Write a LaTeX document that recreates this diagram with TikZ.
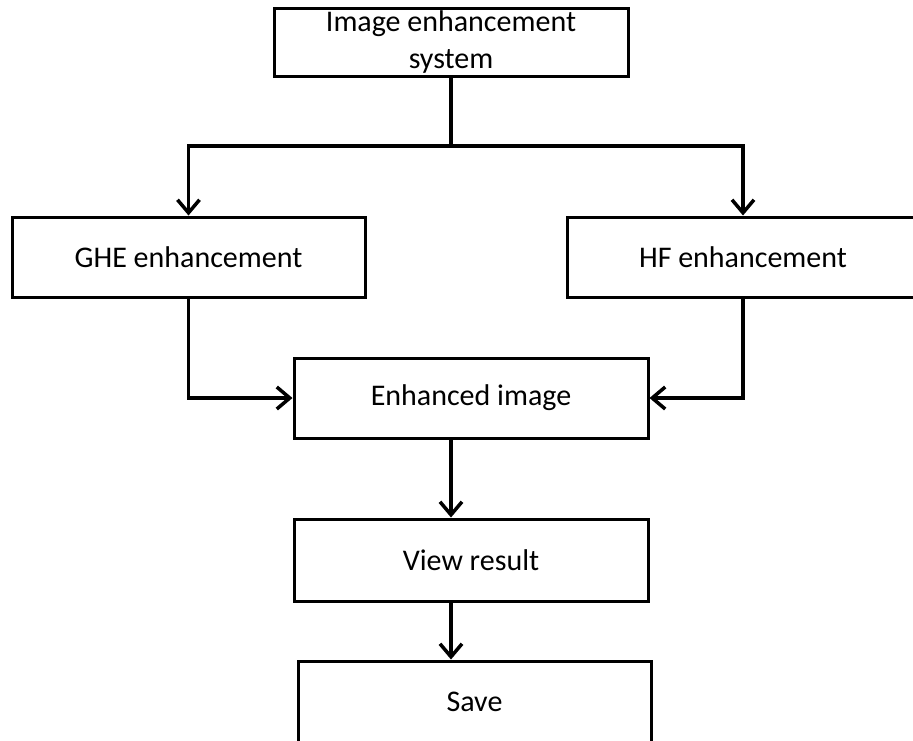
\documentclass[tikz,border=0pt]{standalone}
\usepackage{fontspec}
\setmainfont{Carlito}
\usetikzlibrary{arrows.meta}
\begin{document}
\begin{tikzpicture}[x=1pt,y=-1pt,
  box/.style={draw=black, line width=3pt, inner sep=0pt, align=center,
              font=\fontsize{30}{37}\selectfont},
  link/.style={draw=black, line width=3.5pt},
  flow/.style={link, -{Straight Barb[length=13pt,width=22pt]}}]
  % page frame
  \clip (0,0) rectangle (913,740);
  \fill[white] (0,0) rectangle (913,740);

  % process boxes
  \node[box, minimum width=354pt, minimum height=68pt] (top) at (451,42)
    {Image enhancement\\system};
  \node[box, minimum width=353pt, minimum height=80pt] (ghe) at (188.5,257)
    {GHE enhancement};
  \node[box, minimum width=352pt, minimum height=80pt] (hf) at (743,257)
    {HF enhancement};
  \node[box, minimum width=354pt, minimum height=80pt] (enh) at (471,398)
    {Enhanced image};
  \node[box, minimum width=354pt, minimum height=82pt] (view) at (471,560)
    {View result};
  \node[box, minimum width=353pt, minimum height=82pt] (save) at (474.5,702)
    {Save};

  % branching point below the system box
  \coordinate (split) at (451,146);

  % connectors
  \draw[link] (top.south -| split) -- (split);
  \draw[flow] (split) -| (ghe.north);
  \draw[flow] (split) -| (hf.north);
  \draw[flow] (ghe.south) |- (enh.west);
  \draw[flow] (hf.south) |- (enh.east);
  \draw[flow] (enh.south -| split) -- (view.north -| split);
  \draw[flow] (view.south -| split) -- (save.north -| split);
\end{tikzpicture}
\end{document}
